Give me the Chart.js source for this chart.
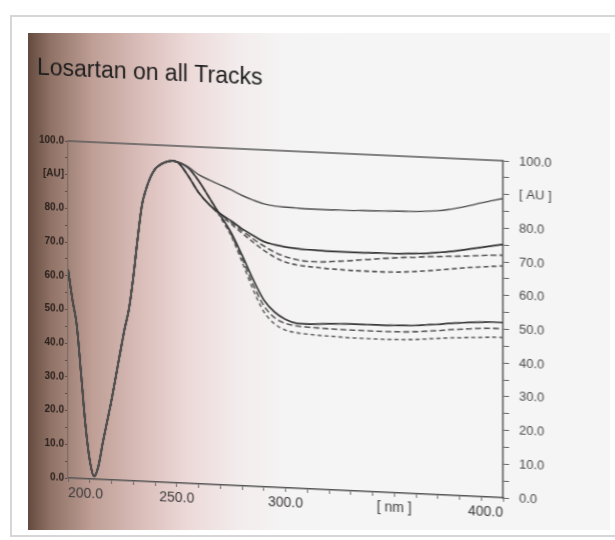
<!DOCTYPE html>
<html><head><meta charset="utf-8">
<script src="https://cdn.jsdelivr.net/npm/chart.js@4.4.1/dist/chart.umd.min.js"></script>
<style>
html,body{margin:0;padding:0;width:615px;height:540px;overflow:hidden;background:#fff;}
#frame{position:absolute;left:10px;top:15px;width:620px;height:522px;border:2px solid #d6d6d6;box-sizing:border-box;}
#photo{position:absolute;left:28px;top:33px;width:582px;height:497px;
background:linear-gradient(to right,#634a3e 0px,#8f7165 22px,#bf9f96 65px,#dbbfbb 115px,#ecd9d8 160px,#f3ecec 210px,#f5f4f4 260px,#f5f5f5 320px);}
#wrap{position:absolute;left:0;top:0;width:615px;height:540px;transform:skewY(2.6deg);transform-origin:68px 0;}
</style></head>
<body>
<div id="frame"></div><div id="photo"></div>
<div id="wrap"><canvas id="c" width="615" height="540"></canvas></div>
<script>
// ---- data ----
const chartTitle = 'Losartan on all Tracks';
const xUnitLabel = '[ nm ]';
const yUnitLabel = '[ AU ]';
const yUnitLabelLeft = '[AU]';
const wavelengths = [200,202,204,206,208,210,212,214,216,218,220,222,224,226,228,230,232,234,236,238,240,242,244,246,248,250,
  255,260,265,270,275,280,285,290,295,300,305,310,315,320,325,330,335,340,345,350,355,360,365,370,375,380,385,390,395,400];
// common part of all tracks, 200-250 nm
const sharedRise = [62,53,45.5,31,16,5.5,0.8,4,11,17.3,23.7,30.8,38,45,51,60.5,72,82,87,90.5,92.8,94,94.8,95.3,95.5,95.3];
// 255-400 nm for each track
const track1 = [94,91.8,90.3,89,87.7,86.2,85,84,83.5,83.3,83.2,83.1,83.1,83.1,83.2,83.2,83.3,83.4,83.5,83.6,83.7,83.8,84,84.3,84.8,85.5,86.3,87.2,88,88.8];
const track2 = [91.5,86.5,83,80.5,78.5,76.3,74.5,72.8,72,71.5,71.2,71,70.9,70.8,70.8,70.8,70.8,70.9,71,71,71.1,71.3,71.5,71.9,72.3,72.8,73.4,74,74.6,75.2];
const track3 = [91.5,86.5,83,80.3,78,75.7,73.5,71.5,69.8,68.6,67.9,67.5,67.5,67.7,68,68.3,68.7,69,69.4,69.7,70,70.2,70.5,70.7,70.9,71.1,71.3,71.6,71.8,72];
const track4 = [91.5,86.5,83,80,77.6,75,72.5,70.2,68.3,67,66.3,66,65.8,65.6,65.5,65.4,65.4,65.4,65.4,65.5,65.7,66,66.3,66.7,67.1,67.5,67.9,68.2,68.5,68.8];
const track5 = [93.8,90,85,80,75,68.5,61.5,55.5,52,50,49,48.9,49.1,49.3,49.4,49.5,49.5,49.6,49.6,49.7,49.8,50,50.3,50.6,51,51.3,51.6,51.8,52,52];
const track6 = [93.8,90,85,80,74.5,67.5,60,53.8,50.3,48.8,48.2,48,47.9,47.8,47.7,47.7,47.7,47.7,47.7,47.8,47.9,48.1,48.4,48.7,49.1,49.4,49.7,50,50.1,50.2];
const track7 = [93.8,90,85,79.5,74,66.5,58.5,52,48.5,46.8,46.2,45.9,45.7,45.6,45.5,45.4,45.4,45.4,45.4,45.5,45.6,45.8,46.1,46.4,46.7,46.9,47.1,47.3,47.5,47.6];
const tracks = [track1,track2,track3,track4,track5,track6,track7];

// ---- fonts ----
function hasFont(name){
  const c=document.createElement('canvas').getContext('2d');
  c.font='40px monospace'; const w0=c.measureText('Losartan 100.0').width;
  c.font='40px "'+name+'", monospace'; return Math.abs(c.measureText('Losartan 100.0').width-w0)>0.5;
}
const narrow = hasFont('Liberation Sans Narrow');
const FF = narrow ? '"Liberation Sans Narrow", "Liberation Sans", Arial, sans-serif' : '"Liberation Sans", Arial, sans-serif';
const SZ = narrow ? {title:28, right:16, left:12, x:17} : {title:23, right:13, left:10, x:14};

const lineStyles = [
  {c:'#4f4f4f', d:[], w:1.4}, {c:'#333', d:[], w:1.7}, {c:'#5a5a5a', d:[6,3], w:1.6}, {c:'#555', d:[5,3], w:1.6},
  {c:'#383838', d:[], w:1.7}, {c:'#5a5a5a', d:[6,3], w:1.6}, {c:'#666', d:[4,3], w:1.6}
];
const datasets = tracks.map((tail,k)=>{
  const vals = sharedRise.concat(tail);
  return {
    label:'Track '+(k+1),
    data: wavelengths.map((w,i)=>({x:w,y:vals[i]})),
    borderColor: lineStyles[k].c, borderDash: lineStyles[k].d, borderWidth: lineStyles[k].w,
    pointRadius:0, fill:false, cubicInterpolationMode:'monotone'
  };
});

const topFrame = {
  id:'topFrame',
  beforeDatasetsDraw(chart){
    const a=chart.chartArea, ctx=chart.ctx;
    ctx.save(); ctx.strokeStyle='#5a5a5a'; ctx.lineWidth=1.3;
    ctx.beginPath(); ctx.moveTo(a.left,a.top); ctx.lineTo(a.right,a.top); ctx.stroke(); ctx.restore();
  }
};

new Chart(document.getElementById('c'), {
  type:'line',
  data:{datasets},
  plugins:[topFrame],
  options:{
    responsive:false, animation:false, devicePixelRatio:1,
    layout:{padding:{left:37,right:0,top:0,bottom:0}},
    plugins:{
      legend:{display:false}, tooltip:{enabled:false},
      title:{display:true, text:chartTitle, align:'start', color:'#1c1c1c',
        font:{family:FF, size:SZ.title, weight:'normal'}, padding:{top:56, bottom:141-56-SZ.title*1.2}}
    },
    scales:{
      x:{type:'linear', min:200, max:400,
        afterFit(s){s.height=62;},
        border:{color:'#555', width:1.5},
        grid:{drawOnChartArea:false, color:'#666', tickLength:4},
        ticks:{stepSize:10, autoSkip:false, maxRotation:0, align:'inner', padding:3, color:'#3a3a3a',
          font:{family:FF, size:SZ.x},
          callback(v){ if(v%50!==0) return ''; return v===350 ? xUnitLabel : v.toFixed(1); }}
      },
      y:{position:'left', min:0, max:100,
        afterFit(s){s.width=31;},
        border:{color:'#7a6a64', width:1.2},
        grid:{drawOnChartArea:false, color:'#5a4a44', tickLength:3},
        ticks:{stepSize:5, autoSkip:false, padding:1, color:'#2a201c',
          font:{family:FF, size:SZ.left, weight:'bold'},
          callback(v){ if(v%10!==0) return ''; return v===90 ? yUnitLabelLeft : v.toFixed(1); }}
      },
      y2:{position:'right', min:0, max:100,
        afterFit(s){s.width=112;},
        border:{color:'#555', width:1.5},
        grid:{drawOnChartArea:false, color:'#666', tickLength:6},
        ticks:{stepSize:5, autoSkip:false, padding:10, color:'#4a4a4a',
          font:{family:FF, size:SZ.right},
          callback(v){ if(v%10!==0) return ''; return v===90 ? yUnitLabel : v.toFixed(1); }}
      }
    }
  }
});
</script>
</body></html>
